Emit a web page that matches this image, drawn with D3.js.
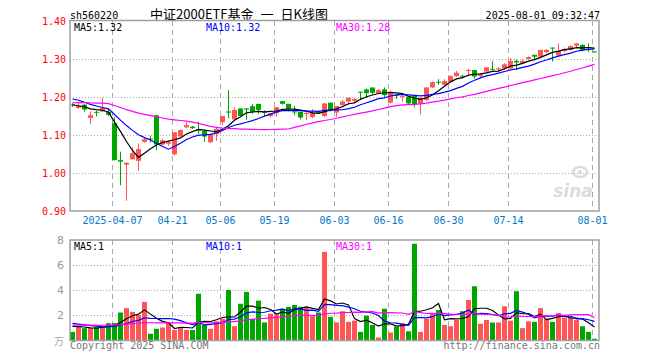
<!DOCTYPE html>
<html>
<head>
<meta charset="utf-8">
<script src="https://cdn.jsdelivr.net/npm/d3@7"></script>
<style>
  body { margin: 0; background: #fff; }
  text { font-family: "DejaVu Sans Mono", monospace; font-size: 10px; }
</style>
</head>
<body>
<div id="chart"></div>
<script>
// trading days shown
var dates = [
  "2025-03-26","2025-03-27","2025-03-28","2025-03-31","2025-04-01","2025-04-02","2025-04-03",
  "2025-04-07","2025-04-08","2025-04-09","2025-04-10","2025-04-11","2025-04-14","2025-04-15",
  "2025-04-16","2025-04-17","2025-04-18","2025-04-21","2025-04-22","2025-04-23","2025-04-24",
  "2025-04-25","2025-04-28","2025-04-29","2025-04-30","2025-05-06","2025-05-07","2025-05-08",
  "2025-05-09","2025-05-12","2025-05-13","2025-05-14","2025-05-15","2025-05-16","2025-05-19",
  "2025-05-20","2025-05-21","2025-05-22","2025-05-23","2025-05-26","2025-05-27","2025-05-28",
  "2025-05-29","2025-05-30","2025-06-03","2025-06-04","2025-06-05","2025-06-06","2025-06-09",
  "2025-06-10","2025-06-11","2025-06-12","2025-06-13","2025-06-16","2025-06-17","2025-06-18",
  "2025-06-19","2025-06-20","2025-06-23","2025-06-24","2025-06-25","2025-06-26","2025-06-27",
  "2025-06-30","2025-07-01","2025-07-02","2025-07-03","2025-07-04","2025-07-07","2025-07-08",
  "2025-07-09","2025-07-10","2025-07-11","2025-07-14","2025-07-15","2025-07-16","2025-07-17",
  "2025-07-18","2025-07-21","2025-07-22","2025-07-23","2025-07-24","2025-07-25","2025-07-28",
  "2025-07-29","2025-07-30","2025-07-31","2025-08-01"
];

var opens = [
  1.180,1.171,1.180,1.145,1.161,1.162,1.161,1.131,1.034,1.022,
  1.036,1.032,1.082,1.091,1.152,1.075,1.077,1.049,1.096,1.120,
  1.122,1.115,1.111,1.081,1.102,1.134,1.162,1.141,1.170,1.170,
  1.176,1.182,1.161,1.150,1.157,1.189,1.182,1.162,1.161,1.156,
  1.147,1.161,1.150,1.185,1.159,1.179,1.188,1.190,1.214,1.220,
  1.225,1.210,1.220,1.185,1.206,1.201,1.201,1.203,1.183,1.192,
  1.225,1.240,1.232,1.240,1.255,1.256,1.270,1.271,1.255,1.267,
  1.274,1.274,1.275,1.275,1.295,1.289,1.300,1.311,1.306,1.318,
  1.330,1.309,1.321,1.324,1.335,1.337,1.327,1.320
];
var highs = [
  1.184,1.187,1.181,1.162,1.164,1.197,1.170,1.147,1.056,1.028,
  1.068,1.077,1.093,1.098,1.152,1.090,1.086,1.108,1.115,1.134,
  1.124,1.135,1.113,1.103,1.122,1.150,1.218,1.173,1.170,1.171,
  1.181,1.182,1.165,1.157,1.173,1.190,1.182,1.176,1.161,1.162,
  1.168,1.164,1.185,1.185,1.176,1.192,1.198,1.197,1.214,1.222,
  1.225,1.221,1.225,1.217,1.207,1.205,1.202,1.203,1.198,1.226,
  1.241,1.247,1.247,1.257,1.269,1.258,1.275,1.271,1.263,1.278,
  1.295,1.279,1.289,1.302,1.298,1.299,1.307,1.311,1.324,1.326,
  1.330,1.341,1.330,1.336,1.341,1.339,1.341,1.321
];
var lows = [
  1.174,1.169,1.161,1.129,1.149,1.160,1.150,1.033,0.968,0.927,
  1.036,1.006,1.080,1.080,1.060,1.072,1.071,1.046,1.096,1.118,
  1.116,1.104,1.082,1.079,1.085,1.126,1.144,1.139,1.150,1.140,
  1.156,1.156,1.150,1.146,1.148,1.180,1.162,1.152,1.141,1.139,
  1.144,1.157,1.147,1.162,1.148,1.178,1.179,1.186,1.194,1.198,
  1.207,1.208,1.200,1.183,1.195,1.188,1.181,1.173,1.154,1.190,
  1.224,1.232,1.230,1.238,1.253,1.249,1.256,1.248,1.250,1.263,
  1.268,1.268,1.271,1.271,1.271,1.287,1.299,1.297,1.302,1.315,
  1.293,1.309,1.318,1.322,1.329,1.320,1.319,1.318
];
var closes = [
  1.178,1.177,1.167,1.152,1.159,1.171,1.153,1.034,1.030,1.027,
  1.052,1.063,1.089,1.089,1.075,1.086,1.081,1.107,1.113,1.126,
  1.118,1.111,1.096,1.102,1.116,1.150,1.159,1.166,1.150,1.167,
  1.161,1.166,1.159,1.157,1.173,1.182,1.168,1.160,1.146,1.158,
  1.160,1.160,1.183,1.166,1.176,1.188,1.198,1.195,1.212,1.210,
  1.211,1.218,1.205,1.214,1.205,1.203,1.183,1.181,1.198,1.225,
  1.239,1.238,1.242,1.255,1.264,1.255,1.271,1.254,1.260,1.278,
  1.273,1.275,1.286,1.295,1.291,1.295,1.305,1.306,1.324,1.324,
  1.328,1.321,1.326,1.334,1.341,1.324,1.326,1.319
];
// volume, 万手
var volumes = [
  0.65,1.1,0.95,0.95,1.05,1.05,1.35,1.35,2.2,2.55,
  2.25,2.0,3.05,0.5,0.9,1.0,1.4,0.8,1.0,0.8,
  0.8,3.7,1.2,0.9,1.5,1.7,4.0,1.1,2.9,3.85,
  1.7,3.15,1.4,2.1,2.05,2.5,2.65,2.8,2.65,2.65,
  1.9,2.2,7.05,1.85,1.4,2.3,1.45,1.55,0.65,1.95,
  1.2,0.2,2.5,0.6,1.1,1.35,0.7,7.7,0.65,1.7,
  2.15,2.4,1.2,1.1,1.6,2.3,3.2,4.3,1.3,1.6,
  1.4,1.4,2.7,1.55,3.9,0.95,1.5,1.45,2.55,1.7,
  1.45,2.15,1.8,1.75,1.6,1.1,0.65,0.1
];
// 29 sessions before the window (not drawn), only used to warm up the averages
var earlierCloses = [
  1.16,1.17,1.18,1.17,1.18,1.19,1.18,1.19,1.20,1.19,
  1.20,1.19,1.18,1.17,1.18,1.17,1.16,1.17,1.18,1.19,
  1.21,1.22,1.21,1.20,1.21,1.19,1.18,1.18,1.17
];
var earlierVolumes = [
  1.0,1.2,1.1,1.3,1.0,1.1,1.2,1.2,1.0,1.1,
  1.3,1.2,1.1,1.0,1.2,1.1,1.2,1.1,1.2,1.0,
  1.7,1.5,1.6,1.4,1.6,1.2,1.1,1.3,1.2
];

var titleParts = ["中证2000ETF基金", "一", "日K线图"];
var tickDates = ["2025-04-07","2025-04-21","2025-05-06","2025-05-19","2025-06-03",
                 "2025-06-16","2025-06-30","2025-07-14","2025-08-01"];
var tickLabels = ["2025-04-07","04-21","05-06","05-19","06-03","06-16","06-30","07-14","08-01"];
var priceTicks = [1.40,1.30,1.20,1.10,1.00,0.90];
var priceGrid = [1.30,1.20,1.10,1.00];
var volTicks = [8,6,4,2];
var maPeriods = [5,10,30];
var maColors = ["#000000","#0000ff","#ff00ff"];

var RED = "#ff5555", GREEN = "#00a600";

var width = 660, height = 360;
var left = 70, right = 599;

var svg = d3.select("#chart").append("svg")
  .attr("width", width)
  .attr("height", height);

var x = d3.scaleBand().domain(dates).range([69.5, 597.5]).padding(0);
var cx = function(d) { return x(d) + x.bandwidth() / 2; };
var y = d3.scaleLinear().domain([0.90, 1.40]).range([211, 21]);
var yv = d3.scaleLinear().domain([0, 8]).range([340, 240]);

var movingAvg = function(all, n, skip) {
  var out = [];
  for (var i = skip; i < all.length; i++) {
    var s = 0;
    for (var j = i - n + 1; j <= i; j++) s += all[j];
    out.push(s / n);
  }
  return out;
};
var allCloses = earlierCloses.concat(closes);
var allVols = earlierVolumes.concat(volumes);
var priceMA = maPeriods.map(function(n) { return movingAvg(allCloses, n, earlierCloses.length); });
var volMA = maPeriods.map(function(n) { return movingAvg(allVols, n, earlierVolumes.length); });

var trunc2 = function(v) { return (Math.floor(v * 100 + 1e-6) / 100).toFixed(2); };

// header
svg.append("text").attr("x", 70).attr("y", 19).text("sh560220");
var title = svg.append("text")
  .attr("x", 239).attr("y", 19)
  .attr("text-anchor", "middle")
  .style("font-family", "'Noto Sans CJK SC', sans-serif")
  .style("font-size", "13px");
titleParts.forEach(function(t, i) {
  title.append("tspan").attr("dx", i === 0 ? 0 : 7).text(t);
});
svg.append("text").attr("x", 600).attr("y", 19).attr("text-anchor", "end").text("2025-08-01 09:32:47");

// watermark
var wm = svg.append("g").attr("fill", "#dcdcdc");
wm.append("text").attr("x", 573).attr("y", 197).attr("text-anchor", "middle")
  .style("font-family", "'DejaVu Sans', sans-serif").style("font-size", "17px")
  .style("font-style", "italic").style("font-weight", "bold").text("sina");
wm.append("ellipse").attr("cx", 580).attr("cy", 172).attr("rx", 7).attr("ry", 5)
  .attr("fill", "none").attr("stroke", "#dcdcdc").attr("stroke-width", 2.5);
wm.append("circle").attr("cx", 580).attr("cy", 172).attr("r", 2);

// grid lines
var gridX = function(d) { return cx(d) - 2; };
var panels = [[21, 211], [240, 341]];
panels.forEach(function(p) {
  svg.append("g").selectAll("line").data(tickDates).enter().append("line")
    .attr("x1", gridX).attr("x2", gridX)
    .attr("y1", p[0]).attr("y2", p[1])
    .attr("stroke", "#aaaaaa").attr("stroke-dasharray", "5,4");
});
svg.append("g").selectAll("line").data(priceGrid).enter().append("line")
  .attr("x1", left).attr("x2", right)
  .attr("y1", function(d) { return Math.round(y(d)) + 0.5; })
  .attr("y2", function(d) { return Math.round(y(d)) + 0.5; })
  .attr("stroke", "#aaaaaa").attr("stroke-dasharray", "1,2");
svg.append("g").selectAll("line").data([6, 4, 2]).enter().append("line")
  .attr("x1", left).attr("x2", right)
  .attr("y1", function(d) { return yv(d) + 0.5; })
  .attr("y2", function(d) { return yv(d) + 0.5; })
  .attr("stroke", "#aaaaaa").attr("stroke-dasharray", "1,2");

// axes (labels only)
var yAxis = svg.append("g")
  .attr("transform", "translate(" + left + ",0)")
  .call(d3.axisLeft(y).tickValues(priceTicks).tickSize(0).tickPadding(4)
    .tickFormat(d3.format(".2f")));
yAxis.select(".domain").remove();
yAxis.selectAll("text").attr("fill", "#ff0000")
  .style("font-family", "'DejaVu Sans Mono', monospace").style("font-size", "10px");

var vAxis = svg.append("g")
  .attr("transform", "translate(" + (left - 2) + ",0)")
  .call(d3.axisLeft(yv).tickValues(volTicks).tickSize(0).tickPadding(4)
    .tickFormat(d3.format("d")));
vAxis.select(".domain").remove();
vAxis.selectAll("text").attr("fill", "#999999")
  .style("font-family", "'DejaVu Sans', sans-serif").style("font-size", "11px");

var xAxis = svg.append("g")
  .attr("transform", "translate(-2,211)")
  .call(d3.axisBottom(x).tickValues(tickDates).tickSize(0).tickPadding(6)
    .tickFormat(function(d, i) { return tickLabels[i]; }));
xAxis.select(".domain").remove();
xAxis.selectAll("text").attr("fill", "#0078c8")
  .style("font-family", "'DejaVu Sans Mono', monospace").style("font-size", "10px");

svg.append("text").attr("x", 64).attr("y", 345).attr("text-anchor", "end")
  .attr("fill", "#aaaaaa").style("font-family", "'Noto Sans CJK SC', sans-serif")
  .style("font-size", "10px").text("万");

// candles
var candles = svg.append("g").selectAll("g").data(dates).enter().append("g");
var colorOf = function(i) { return closes[i] >= opens[i] ? RED : GREEN; };
candles.append("line")
  .attr("x1", function(d) { return cx(d); })
  .attr("x2", function(d) { return cx(d); })
  .attr("y1", function(d, i) { return y(highs[i]); })
  .attr("y2", function(d, i) { return y(lows[i]); })
  .attr("stroke", function(d, i) { return colorOf(i); });
candles.append("rect")
  .attr("x", function(d) { return cx(d) - 2.5; })
  .attr("width", 5)
  .attr("y", function(d, i) { return y(Math.max(opens[i], closes[i])); })
  .attr("height", function(d, i) { return Math.max(1, Math.abs(y(opens[i]) - y(closes[i]))); })
  .attr("fill", function(d, i) { return colorOf(i); });

// volume bars
svg.append("g").selectAll("rect").data(dates).enter().append("rect")
  .attr("x", function(d) { return cx(d) - 2.5; })
  .attr("width", 5)
  .attr("y", function(d, i) { return yv(volumes[i]); })
  .attr("height", function(d, i) { return yv(0) - yv(volumes[i]); })
  .attr("fill", function(d, i) { return colorOf(i); });

// moving averages
var priceLine = d3.line().x(function(d, i) { return cx(dates[i]); }).y(function(d) { return y(d); });
var volLine = d3.line().x(function(d, i) { return cx(dates[i]); }).y(function(d) { return yv(d); });
maPeriods.forEach(function(n, k) {
  svg.append("path").attr("d", priceLine(priceMA[k]))
    .attr("fill", "none").attr("stroke", maColors[k]).attr("stroke-width", 1.2);
  svg.append("path").attr("d", volLine(volMA[k]))
    .attr("fill", "none").attr("stroke", maColors[k]).attr("stroke-width", 1.2);
});

// frames
svg.append("rect").attr("x", 70).attr("y", 20.5).attr("width", right - 70).attr("height", 190.5)
  .attr("fill", "none").attr("stroke", "#a0a0a0").attr("stroke-width", 1.5);
svg.append("rect").attr("x", 70).attr("y", 240).attr("width", right - 70).attr("height", 100.5)
  .attr("fill", "none").attr("stroke", "#a0a0a0").attr("stroke-width", 1.5);

// legends
var legendX = [74, 206, 336];
maPeriods.forEach(function(n, k) {
  var last = priceMA[k][priceMA[k].length - 1];
  svg.append("text").attr("x", legendX[k]).attr("y", 31).attr("fill", maColors[k])
    .text("MA" + n + ":" + trunc2(last));
  var lastV = volMA[k][volMA[k].length - 1];
  svg.append("text").attr("x", legendX[k]).attr("y", 250).attr("fill", maColors[k])
    .text("MA" + n + ":" + Math.floor(lastV));
});

// footer
svg.append("text").attr("x", 70).attr("y", 349).attr("fill", "#777777").text("Copyright 2025 SINA.COM");
svg.append("text").attr("x", 600).attr("y", 349).attr("text-anchor", "end").attr("fill", "#777777")
  .text("http://finance.sina.com.cn");
</script>
</body>
</html>
